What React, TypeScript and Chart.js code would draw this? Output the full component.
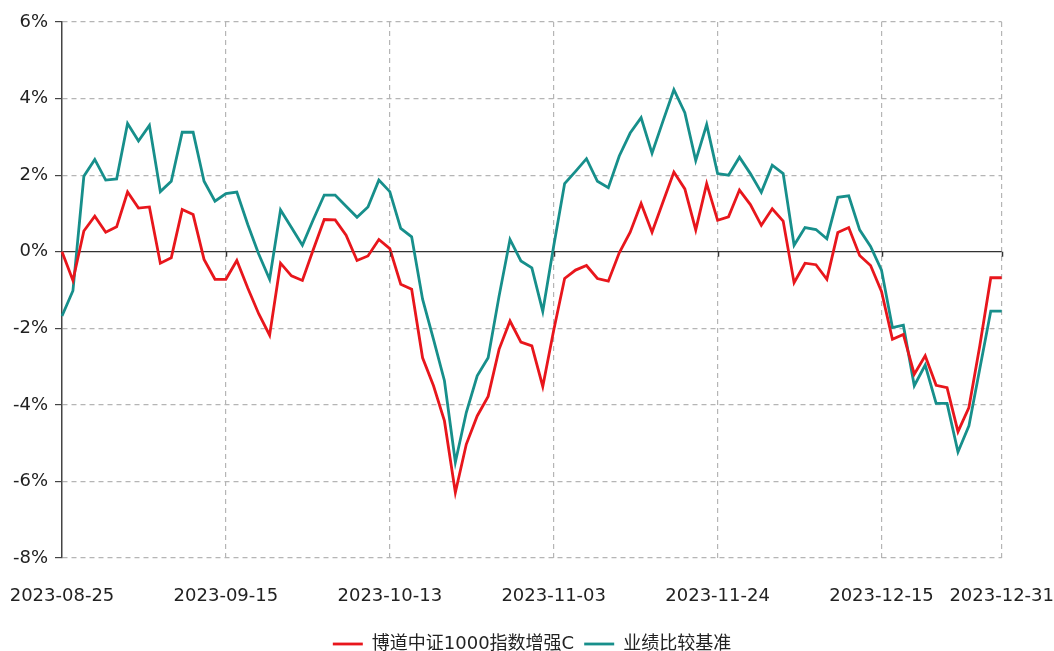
import { useEffect, useRef } from "react";
import { Chart, registerables } from "chart.js";

Chart.register(...registerables);

const dates = [
  "2023-08-25", "2023-08-28", "2023-08-29", "2023-08-30", "2023-08-31",
  "2023-09-01", "2023-09-04", "2023-09-05", "2023-09-06", "2023-09-07",
  "2023-09-08", "2023-09-11", "2023-09-12", "2023-09-13", "2023-09-14",
  "2023-09-15", "2023-09-18", "2023-09-19", "2023-09-20", "2023-09-21",
  "2023-09-22", "2023-09-25", "2023-09-26", "2023-09-27", "2023-09-28",
  "2023-09-30", "2023-10-09", "2023-10-10", "2023-10-11", "2023-10-12",
  "2023-10-13", "2023-10-16", "2023-10-17", "2023-10-18", "2023-10-19",
  "2023-10-20", "2023-10-23", "2023-10-24", "2023-10-25", "2023-10-26",
  "2023-10-27", "2023-10-30", "2023-10-31", "2023-11-01", "2023-11-02",
  "2023-11-03", "2023-11-06", "2023-11-07", "2023-11-08", "2023-11-09",
  "2023-11-10", "2023-11-13", "2023-11-14", "2023-11-15", "2023-11-16",
  "2023-11-17", "2023-11-20", "2023-11-21", "2023-11-22", "2023-11-23",
  "2023-11-24", "2023-11-27", "2023-11-28", "2023-11-29", "2023-11-30",
  "2023-12-01", "2023-12-04", "2023-12-05", "2023-12-06", "2023-12-07",
  "2023-12-08", "2023-12-11", "2023-12-12", "2023-12-13", "2023-12-14",
  "2023-12-15", "2023-12-18", "2023-12-19", "2023-12-20", "2023-12-21",
  "2023-12-22", "2023-12-25", "2023-12-26", "2023-12-27", "2023-12-28",
  "2023-12-29", "2023-12-31",
];

const fundReturns = [
  0.0, -0.75, 0.54, 0.93, 0.51, 0.65, 1.56, 1.14, 1.17, -0.3,
  -0.16, 1.1, 0.97, -0.2, -0.72, -0.72, -0.23, -0.95, -1.62, -2.18,
  -0.3, -0.63, -0.75, 0.06, 0.84, 0.83, 0.43, -0.23, -0.11, 0.32,
  0.08, -0.85, -0.98, -2.77, -3.5, -4.42, -6.29, -5.03, -4.29, -3.78,
  -2.55, -1.81, -2.36, -2.46, -3.52, -2.05, -0.7, -0.48, -0.36, -0.7,
  -0.77, -0.03, 0.51, 1.26, 0.51, 1.3, 2.08, 1.64, 0.57, 1.78,
  0.82, 0.91, 1.61, 1.23, 0.69, 1.12, 0.8, -0.81, -0.3, -0.34,
  -0.72, 0.5, 0.63, -0.1, -0.36, -1.04, -2.29, -2.16, -3.2, -2.72,
  -3.49, -3.55, -4.7, -4.07, -2.45, -0.68, -0.68,
];

const benchmarkReturns = [
  -1.68, -1.02, 1.97, 2.41, 1.87, 1.9, 3.35, 2.89, 3.3, 1.57,
  1.84, 3.12, 3.12, 1.84, 1.32, 1.52, 1.56, 0.71, -0.06, -0.72,
  1.09, 0.63, 0.17, 0.84, 1.48, 1.48, 1.19, 0.9, 1.17, 1.87,
  1.57, 0.61, 0.39, -1.24, -2.29, -3.37, -5.5, -4.2, -3.24, -2.77,
  -1.16, 0.32, -0.24, -0.42, -1.56, 0.15, 1.78, 2.1, 2.43, 1.84,
  1.67, 2.5, 3.1, 3.5, 2.57, 3.41, 4.23, 3.63, 2.38, 3.32,
  2.04, 2.0, 2.47, 2.04, 1.55, 2.26, 2.04, 0.17, 0.63, 0.58,
  0.34, 1.42, 1.46, 0.57, 0.14, -0.48, -1.98, -1.92, -3.5, -2.96,
  -3.96, -3.96, -5.23, -4.55, -3.05, -1.55, -1.55,
];

const tickDates = [
  "2023-08-25", "2023-09-15", "2023-10-13", "2023-11-03",
  "2023-11-24", "2023-12-15", "2023-12-31",
];

const seriesNames = ["博道中证1000指数增强C", "业绩比较基准"];
const seriesColors = ["#e8161c", "#178f8b"];

const yMin = -8;
const yMax = 6;
const yStep = 2;

const W = 1054;
const H = 663;

const zeroTickPlugin = {
  id: "zeroTicks",
  afterDraw(chart: any) {
    const xs = chart.scales.x;
    const ys = chart.scales.y;
    const y0 = ys.getPixelForValue(0);
    const ctx = chart.ctx;
    ctx.save();
    ctx.strokeStyle = "#333";
    ctx.lineWidth = 1.5;
    xs.ticks.forEach((t: any) => {
      if (t.value === 0) return;
      const px = Math.round(xs.getPixelForValue(t.value)) + 0.5;
      ctx.beginPath();
      ctx.moveTo(px, y0);
      ctx.lineTo(px, y0 + 5);
      ctx.stroke();
    });
    ctx.restore();
  },
};

export default function App() {
  const ref = useRef<HTMLCanvasElement | null>(null);

  useEffect(() => {
    if (!ref.current) return;
    Chart.defaults.font.family = "'DejaVu Sans', 'Noto Sans CJK SC', sans-serif";
    Chart.defaults.font.size = 18;
    Chart.defaults.color = "#222";

    const chart = new Chart(ref.current, {
      type: "line",
      data: {
        labels: dates,
        datasets: [
          {
            label: seriesNames[0],
            data: fundReturns,
            borderColor: seriesColors[0],
            backgroundColor: seriesColors[0],
            borderWidth: 2.8,
            pointRadius: 0,
            pointStyle: "line",
            tension: 0,
            fill: false,
          },
          {
            label: seriesNames[1],
            data: benchmarkReturns,
            borderColor: seriesColors[1],
            backgroundColor: seriesColors[1],
            borderWidth: 2.8,
            pointRadius: 0,
            pointStyle: "line",
            tension: 0,
            fill: false,
          },
        ],
      },
      options: {
        responsive: false,
        animation: false,
        layout: { padding: { top: 22, right: 0, left: 10, bottom: 0 } },
        plugins: {
          legend: {
            position: "bottom",
            labels: {
              usePointStyle: true,
              pointStyleWidth: 30,
              padding: 10,
              color: "#222",
              font: { size: 18 },
            },
          },
          tooltip: { enabled: false },
        },
        scales: {
          x: {
            type: "category",
            afterBuildTicks: (scale: any) => {
              scale.ticks = scale.ticks.filter((t: any) =>
                tickDates.includes(dates[t.value])
              );
            },
            afterFit: (scale: any) => {
              scale.height = 67;
            },
            ticks: {
              autoSkip: false,
              maxRotation: 0,
              minRotation: 0,
              padding: 0,
              color: "#222",
            },
            grid: {
              drawTicks: true,
              tickLength: 28,
              tickColor: "rgba(0,0,0,0)",
              color: (ctx: any) =>
                ctx.tick && ctx.tick.value === 0 ? "rgba(0,0,0,0)" : "#b5b5b5",
              lineWidth: 1.2,
            },
            border: { display: false, dash: [5, 4] },
          },
          y: {
            min: yMin,
            max: yMax,
            afterFit: (scale: any) => {
              scale.width = 52;
            },
            ticks: {
              stepSize: yStep,
              padding: 7,
              color: "#222",
              callback: (v: any) => `${v}%`,
            },
            grid: {
              tickLength: 7,
              tickColor: "#444",
              color: (ctx: any) =>
                ctx.tick && ctx.tick.value === 0 ? "#333" : "#b5b5b5",
              lineWidth: 1.2,
            },
            border: {
              display: true,
              color: "#444",
              width: 1.5,
              dash: (ctx: any) =>
                ctx.tick && ctx.tick.value !== 0 ? [5, 4] : [],
            },
          },
        },
      },
      plugins: [zeroTickPlugin],
    });
    return () => chart.destroy();
  }, []);

  return (
    <div style={{ position: "fixed", left: 0, top: 0, width: W, height: H }}>
      <canvas ref={ref} width={W} height={H} style={{ width: W, height: H, display: "block" }} />
    </div>
  );
}
